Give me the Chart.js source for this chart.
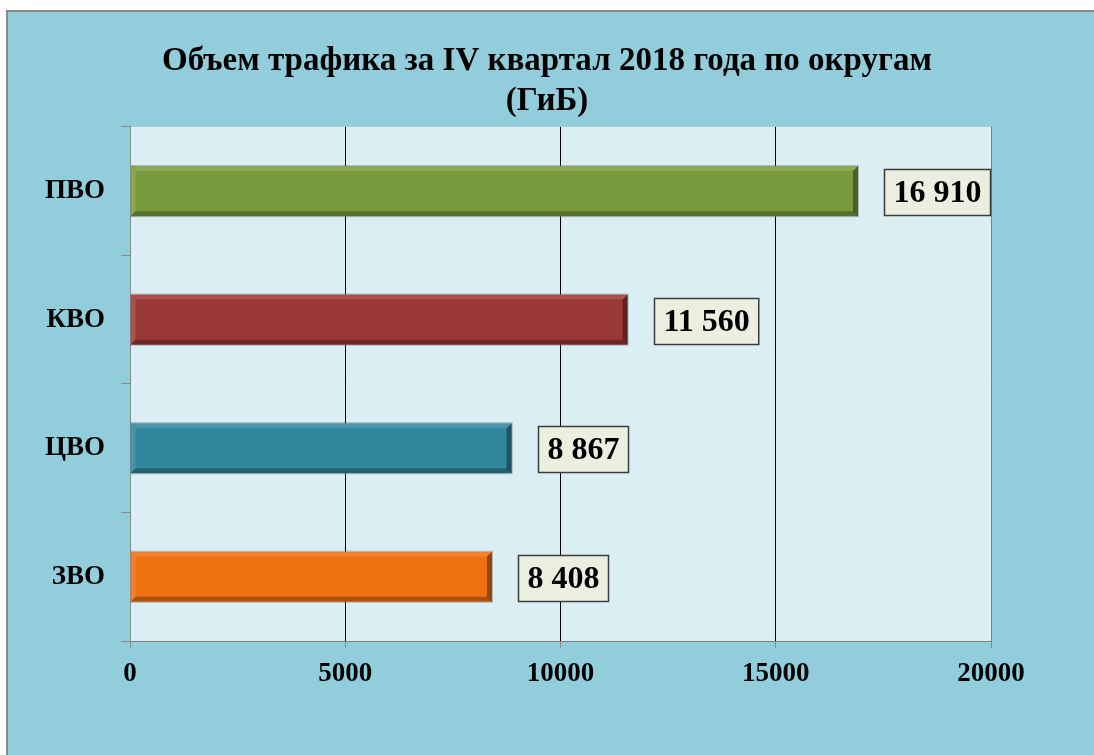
<!DOCTYPE html>
<html>
<head>
<meta charset="utf-8">
<script src="https://cdn.jsdelivr.net/npm/chart.js@4"></script>
<style>
    html, body { margin: 0; padding: 0; background: #ffffff; overflow: hidden; }
    #frame {
        position: absolute; left: 6px; top: 10px; width: 1100px; height: 760px;
        background: #92cddc; border: 2px solid #8a8a8a;
    }
    #wrap { position: absolute; left: 0; top: 0; width: 1094px; height: 755px; }
</style>
</head>
<body>
<div id="frame"></div>
<div id="wrap"><canvas id="traffic-chart" width="1094" height="755"></canvas></div>
<script>
// data
var districts = ['ПВО', 'КВО', 'ЦВО', 'ЗВО'];
var traffic = [16910, 11560, 8867, 8408];
var barColors = ['#789a3c', '#9a3836', '#30869c', '#ee7011'];
var xTickValues = [0, 5000, 10000, 15000, 20000];
var titleLines = ['Объем трафика за IV квартал 2018 года по округам', '(ГиБ)'];

var serif = "'Liberation Serif', 'Times New Roman', serif";

function fmt(v) {
    return String(v).replace(/\B(?=(\d{3})+(?!\d))/g, ' ');
}

// plot area background
var plotBg = {
    id: 'plotBg',
    beforeDraw: function(chart) {
        var a = chart.chartArea, ctx = chart.ctx;
        ctx.save();
        ctx.fillStyle = '#dbeef4';
        ctx.fillRect(a.left, a.top, a.right - a.left, a.bottom - a.top);
        ctx.restore();
    }
};

// bevel look on the bars + boxed value labels
var bevelLabels = {
    id: 'bevelLabels',
    afterDatasetsDraw: function(chart) {
        var ctx = chart.ctx;
        var meta = chart.getDatasetMeta(0);
        meta.data.forEach(function(bar, i) {
            var x0 = bar.base, x1 = bar.x;
            var y0 = bar.y - bar.height / 2, y1 = bar.y + bar.height / 2;
            var b = 5;
            ctx.save();
            // light top/left
            ctx.fillStyle = 'rgba(255,255,255,0.13)';
            ctx.beginPath();
            ctx.moveTo(x0, y0); ctx.lineTo(x1, y0); ctx.lineTo(x1 - b, y0 + b); ctx.lineTo(x0 + b, y0 + b); ctx.closePath();
            ctx.fill();
            ctx.beginPath();
            ctx.moveTo(x0, y0); ctx.lineTo(x0 + b, y0 + b); ctx.lineTo(x0 + b, y1 - b); ctx.lineTo(x0, y1); ctx.closePath();
            ctx.fill();
            // dark bottom/right
            ctx.fillStyle = 'rgba(0,0,0,0.28)';
            ctx.beginPath();
            ctx.moveTo(x0, y1); ctx.lineTo(x0 + b, y1 - b); ctx.lineTo(x1 - b, y1 - b); ctx.lineTo(x1, y1); ctx.closePath();
            ctx.fill();
            ctx.fillStyle = 'rgba(0,0,0,0.38)';
            ctx.beginPath();
            ctx.moveTo(x1, y0); ctx.lineTo(x1, y1); ctx.lineTo(x1 - b, y1 - b); ctx.lineTo(x1 - b, y0 + b); ctx.closePath();
            ctx.fill();
            ctx.strokeStyle = 'rgba(120,120,120,0.45)';
            ctx.lineWidth = 1;
            ctx.strokeRect(x0 + 0.5, y0 - 0.5, x1 - x0, y1 - y0 + 1);

            // value box
            var txt = fmt(traffic[i]);
            ctx.font = 'bold 32px ' + serif;
            var w = ctx.measureText(txt).width + 18;
            var h = 46;
            var bx = Math.round(x1 + 26), by = Math.round(bar.y - h / 2 + 1);
            ctx.fillStyle = '#ebefe0';
            ctx.fillRect(bx, by, w, h);
            ctx.strokeStyle = '#3c3c3c';
            ctx.lineWidth = 1.5;
            ctx.strokeRect(bx + 0.5, by + 0.5, w, h);
            ctx.fillStyle = '#000';
            ctx.textAlign = 'center';
            ctx.textBaseline = 'middle';
            ctx.fillText(txt, bx + w / 2 + 0.5, by + h / 2 + 2);
            ctx.restore();
        });
    }
};

new Chart(document.getElementById('traffic-chart'), {
    type: 'bar',
    data: {
        labels: districts,
        datasets: [{
            data: traffic,
            backgroundColor: barColors,
            borderWidth: 0,
            categoryPercentage: 1,
            barPercentage: 0.39
        }]
    },
    plugins: [plotBg, bevelLabels],
    options: {
        indexAxis: 'y',
        responsive: false,
        animation: false,
        layout: { padding: 0 },
        plugins: {
            legend: { display: false },
            tooltip: { enabled: false },
            title: {
                display: true,
                text: titleLines,
                color: '#000',
                font: { family: serif, size: 33, weight: 'bold', lineHeight: 1.21 },
                padding: { top: 42, bottom: 5 }
            }
        },
        scales: {
            x: {
                min: 0,
                max: 20000,
                afterBuildTicks: function(scale) {
                    scale.ticks = xTickValues.map(function(v) { return { value: v }; });
                },
                afterFit: function(scale) { scale.height = 114; },
                grid: {
                    color: function(c) {
                        var v = c.tick ? c.tick.value : 0;
                        return (v === 0 || v === 20000) ? '#7f7f7f' : '#000000';
                    },
                    tickColor: '#8a8a8a',
                    tickLength: 7,
                    lineWidth: 1
                },
                border: { color: '#7f7f7f' },
                ticks: {
                    color: '#000',
                    font: { family: serif, size: 27, weight: 'bold' },
                    padding: 10,
                    maxRotation: 0,
                    callback: function(v) { return String(v); }
                }
            },
            y: {
                afterFit: function(scale) { scale.width = 130; },
                grid: {
                    drawOnChartArea: false,
                    tickColor: '#8a8a8a',
                    tickLength: 9
                },
                border: { color: '#8a8a8a' },
                ticks: {
                    color: '#000',
                    font: { family: serif, size: 27, weight: 'bold' },
                    padding: 16
                }
            },
            // empty right-hand axis, only reserves the space right of the plot
            y2: {
                position: 'right',
                afterFit: function(scale) { scale.width = 103; },
                grid: { display: false },
                border: { display: false },
                ticks: { display: false }
            }
        }
    }
});
</script>
</body>
</html>
